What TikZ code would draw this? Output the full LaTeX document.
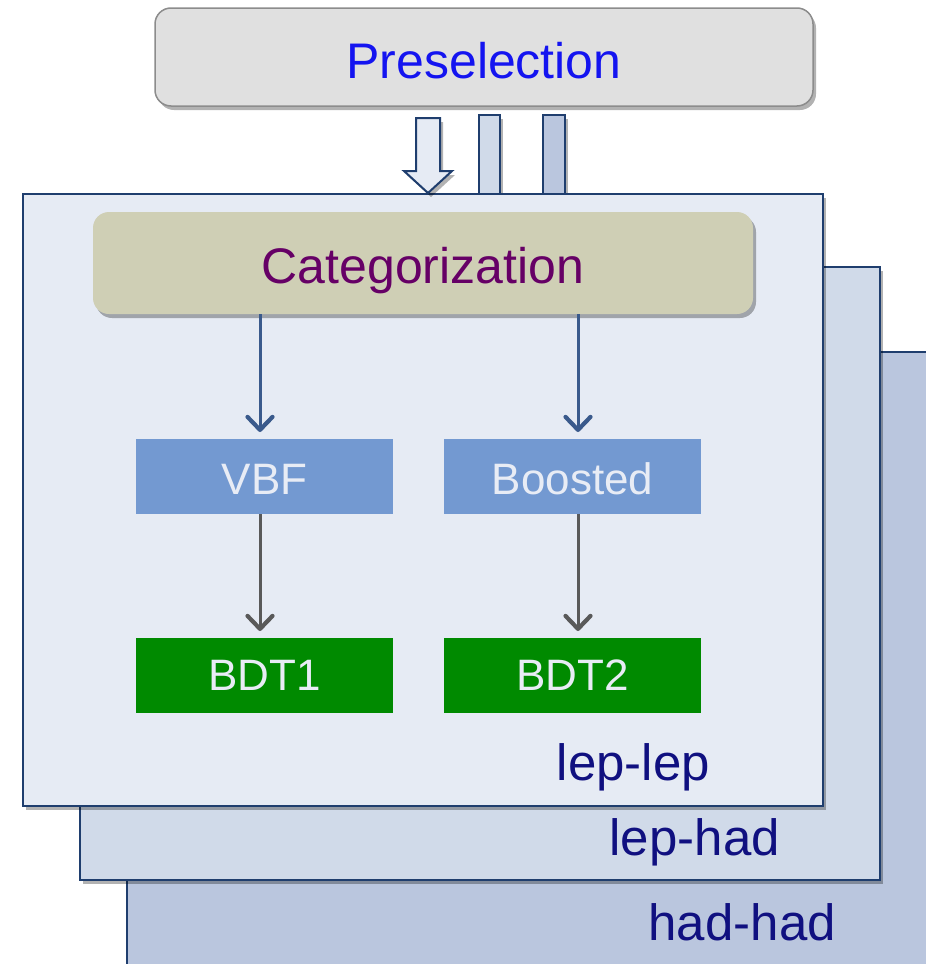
\documentclass[tikz,border=0pt]{standalone}
\usepackage{fontspec}
\setmainfont{Liberation Sans}
\usetikzlibrary{arrows.meta,shadows}
\definecolor{layerA}{HTML}{E6EBF4}
\definecolor{layerB}{HTML}{D0DAE9}
\definecolor{layerC}{HTML}{BAC6DE}
\definecolor{navyline}{HTML}{1F3E6E}
\definecolor{preFill}{HTML}{E0E0E0}
\definecolor{preLine}{HTML}{8C8C8C}
\definecolor{preText}{HTML}{1414F0}
\definecolor{catFill}{HTML}{CFCFB5}
\definecolor{catText}{HTML}{660066}
\definecolor{blueBox}{HTML}{7399D1}
\definecolor{greenBox}{HTML}{008A00}
\definecolor{boxText}{HTML}{E8ECF5}
\definecolor{arrowBlue}{HTML}{3A5A8C}
\definecolor{arrowGray}{HTML}{595959}
\definecolor{labelText}{HTML}{101080}
\tikzset{
  softshadow/.style={drop shadow={shadow xshift=3pt,shadow yshift=-4pt,fill=black,opacity=0.3}},
  layerbox/.style={draw=navyline,line width=2.2pt,anchor=north west,inner sep=0pt,outer sep=0pt,softshadow},
  topbar/.style={draw=navyline,line width=2pt,inner sep=0pt,outer sep=0pt,softshadow},
  roundbox/.style={rounded corners=16pt,inner sep=0pt,outer sep=0pt,softshadow,text depth=0pt},
  catbox/.style={minimum width=257pt,minimum height=75pt,inner sep=0pt,outer sep=0pt,text=boxText,font=\fontsize{44}{50}\selectfont,text depth=0pt},
  layerlabel/.style={text=labelText,font=\fontsize{51}{56}\selectfont,inner sep=0pt,anchor=base east},
  flowarrow/.style={line width=3pt,-{Straight Barb[length=13pt,width=25pt,line width=4.2pt,round]},shorten >=7pt},
}
\begin{document}
\begin{tikzpicture}[x=1pt,y=-1pt]
\clip (0,0) rectangle (926,964);
\fill[white] (0,0) rectangle (926,964);
% preselection
\node[roundbox,draw=preLine,line width=1.5pt,fill=preFill,minimum width=658pt,minimum height=98pt,
  text=preText,font=\fontsize{50}{56}\selectfont,text height=42pt] (pre) at (484,57) {Preselection};
% layers
\node[layerbox,fill=layerC,minimum width=850pt,minimum height=680pt] (hh) at (127,352) {};
\node[layerbox,fill=layerB,minimum width=800pt,minimum height=613pt] (lh) at (80,267) {};
% top bars
\node[topbar,fill=layerB,minimum width=21pt,minimum height=80pt] (bar2) at (489.5,155) {};
\node[topbar,fill=layerC,minimum width=22pt,minimum height=80pt] (bar3) at (554,155) {};
\node[layerbox,fill=layerA,minimum width=800pt,minimum height=612pt] (ll) at (23,194) {};
% hollow arrow
\draw[draw=navyline,fill=layerA,line width=2pt,line join=miter,softshadow]
  (416,118) -- (440,118) -- (440,171) -- (452,171) -- (428,193) -- (404,171) -- (416,171) -- cycle;
% categorization
\node[roundbox,fill=catFill,minimum width=660pt,minimum height=102pt,
  text=catText,font=\fontsize{50}{56}\selectfont,text height=40pt] (cat) at (423,263) {Categorization};
% category boxes
\node[catbox,fill=blueBox,text height=35pt] (vbf) at (264.5,476.5) {VBF};
\node[catbox,fill=blueBox,text height=35pt] (boost) at (572.5,476.5) {Boosted};
\node[catbox,fill=greenBox,text height=29pt] (bdt1) at (264.5,675.5) {BDT1};
\node[catbox,fill=greenBox,text height=29pt] (bdt2) at (572.5,675.5) {BDT2};
% arrows
\draw[flowarrow,draw=arrowBlue] (cat.south -| 260,0) -- ([xshift=-4.5pt]vbf.north);
\draw[flowarrow,draw=arrowBlue] (cat.south -| 578,0) -- ([xshift=5.5pt]boost.north);
\draw[flowarrow,draw=arrowGray] ([xshift=-4.5pt]vbf.south) -- ([xshift=-4.5pt]bdt1.north);
\draw[flowarrow,draw=arrowGray] ([xshift=5.5pt]boost.south) -- ([xshift=5.5pt]bdt2.north);
% labels
\node[layerlabel] (lllab) at (710,780) {lep-lep};
\node[layerlabel] (lhlab) at (780,855) {lep-had};
\node[layerlabel] (hhlab) at (836,940) {had-had};
\end{tikzpicture}
\end{document}
